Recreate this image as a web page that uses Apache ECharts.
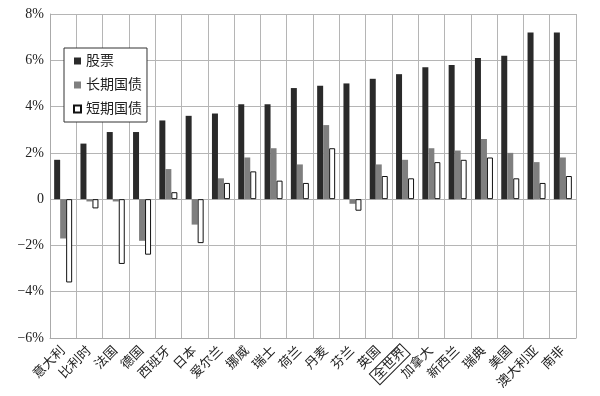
<!DOCTYPE html>
<html><head><meta charset="utf-8">
<script src="https://cdn.jsdelivr.net/npm/echarts@6/dist/echarts.min.js"></script>
<style>html,body{margin:0;padding:0;background:#fff}#c{width:600px;height:396px}</style>
</head><body><div id="c"></div>
<script>
const categories = ['意大利','比利时','法国','德国','西班牙','日本','爱尔兰','挪威','瑞士','荷兰','丹麦','芬兰','英国','全世界','加拿大','新西兰','瑞典','美国','澳大利亚','南非'];
const stocks = [1.7,2.4,2.9,2.9,3.4,3.6,3.7,4.1,4.1,4.8,4.9,5.0,5.2,5.4,5.7,5.8,6.1,6.2,7.2,7.2];
const longBonds = [-1.7,-0.1,-0.1,-1.8,1.3,-1.1,0.9,1.8,2.2,1.5,3.2,-0.2,1.5,1.7,2.2,2.1,2.6,2.0,1.6,1.8];
const shortBills = [-3.6,-0.4,-2.8,-2.4,0.3,-1.9,0.7,1.2,0.8,0.7,2.2,-0.5,1.0,0.9,1.6,1.7,1.8,0.9,0.7,1.0];
const seriesNames = ['股票','长期国债','短期国债'];
const yTicks = {8:'8%',6:'6%',4:'4%',2:'2%',0:'0','-2':'−2%','-4':'−4%','-6':'−6%'};
const font = 'Liberation Serif, "Noto Sans CJK SC", serif';
const chart = echarts.init(document.getElementById('c'));
chart.setOption({
  animation:false,
  grid:{left:50,right:24,top:14,bottom:58},
  legend:{
    orient:'vertical', left:64, top:48,
    data:seriesNames,
    backgroundColor:'#fff', borderColor:'#333', borderWidth:1,
    padding:[6,5,6,9], itemGap:10, itemWidth:7, itemHeight:7,
    icon:'rect',
    textStyle:{fontFamily:font,fontSize:14,color:'#222',lineHeight:14}
  },
  xAxis:{
    type:'category', data:categories,
    axisLine:{onZero:false,lineStyle:{color:'#aaa'}},
    axisTick:{show:false},
    splitLine:{show:true,lineStyle:{color:'#b5b5b5',width:1}},
    axisLabel:{
      rotate:45, interval:0, fontFamily:font, fontSize:13, color:'#222', margin:11,
      formatter:function(v){return v==='全世界'?'{b|'+v+'}':v;},
      rich:{b:{borderColor:'#222',borderWidth:1,padding:[1,2,1,2],fontFamily:font,fontSize:13,color:'#222'}}
    }
  },
  yAxis:{
    type:'value', min:-6, max:8, interval:2,
    axisLine:{show:true,lineStyle:{color:'#aaa'}},
    axisTick:{show:false},
    splitLine:{lineStyle:{color:'#b5b5b5'}},
    axisLabel:{fontFamily:font,fontSize:14,color:'#222',margin:6,formatter:function(v){return yTicks[v];}}
  },
  series:[
    {name:seriesNames[0],type:'bar',data:stocks,barWidth:6,barGap:'0%',itemStyle:{color:'#2a2a2a'}},
    {name:seriesNames[1],type:'bar',data:longBonds,barWidth:6,barGap:'0%',itemStyle:{color:'#7f7f7f'}},
    {name:seriesNames[2],type:'bar',data:shortBills,barWidth:6,barGap:'0%',itemStyle:{color:'#fff',borderColor:'#111',borderWidth:1}}
  ]
});
</script></body></html>
